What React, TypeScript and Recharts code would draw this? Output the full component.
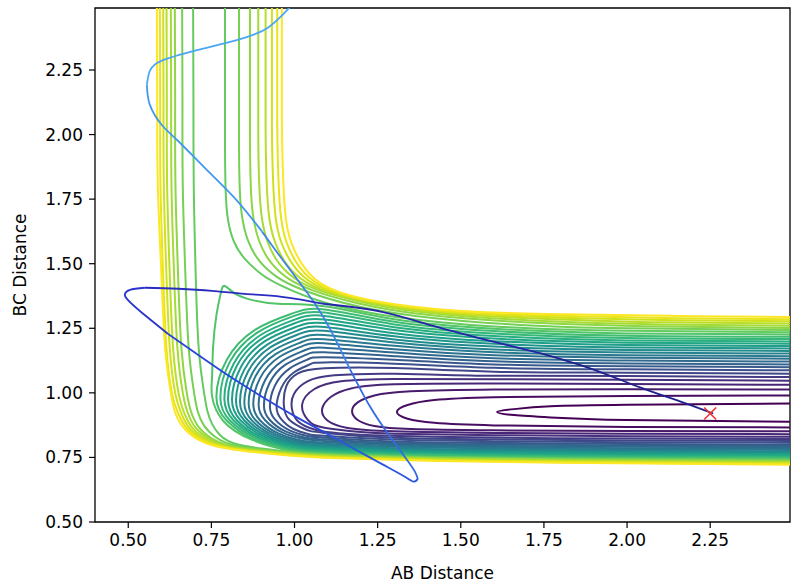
import React from 'react';
import { ComposedChart, Line, XAxis, YAxis, Label, ReferenceArea } from 'recharts';

type Pt = [number, number];

const xTicks = [0.5, 0.75, 1.0, 1.25, 1.5, 1.75, 2.0, 2.25];
const yTicks = [0.5, 0.75, 1.0, 1.25, 1.5, 1.75, 2.0, 2.25];

// viridis, one colour per contour level (low -> high)
const levelColors = [
  '#440154', '#470d60', '#481a6c', '#482576', '#472f7d', '#443b84', '#404588', '#3c508b',
  '#38598c', '#33628d', '#306a8e', '#2d718e', '#297a8e', '#26828e', '#228b8d', '#1f958b',
  '#1f9e89', '#21a685', '#28ae80', '#35b779', '#40bd72', '#52c569', '#63cb5f', '#75d054',
  '#8ed645', '#a5db36', '#bade28', '#d0e11c', '#e7e419', '#fde725',
];

// levels 1-22: loops of the BC valley, open to the right
const valleyLoops: Pt[][] = [
  [[2.5, 0.959], [2.0, 0.954], [1.77, 0.948], [1.66, 0.937], [1.609, 0.926], [1.66, 0.914], [1.77, 0.905], [2.0, 0.895], [2.5, 0.888]],
  [[2.5, 0.99], [2.0, 0.988], [1.6, 0.983], [1.42, 0.972], [1.34, 0.953], [1.308, 0.926], [1.34, 0.9], [1.42, 0.884], [1.6, 0.874], [2.0, 0.868], [2.5, 0.866]],
  [[2.5, 1.013], [2.0, 1.014], [1.6, 1.013], [1.35, 1.006], [1.24, 0.99], [1.19, 0.963], [1.173, 0.93], [1.19, 0.895], [1.24, 0.872], [1.35, 0.86], [1.6, 0.855], [2.0, 0.852], [2.5, 0.851]],
  [[2.5, 1.031], [2.0, 1.034], [1.6, 1.036], [1.3, 1.033], [1.17, 1.017], [1.11, 0.985], [1.083, 0.937], [1.1, 0.892], [1.16, 0.864], [1.3, 0.851], [1.6, 0.845], [2.0, 0.842], [2.5, 0.84]],
  [[2.5, 1.047], [2.0, 1.051], [1.6, 1.053], [1.3, 1.054], [1.14, 1.045], [1.06, 1.015], [1.023, 0.955], [1.04, 0.895], [1.09, 0.865], [1.2, 0.848], [1.3, 0.842], [1.6, 0.836], [2.0, 0.832], [2.5, 0.83]],
  [[2.5, 1.061], [2.0, 1.065], [1.6, 1.066], [1.3, 1.074], [1.12, 1.068], [1.04, 1.045], [0.998, 0.995], [0.992, 0.94], [1.01, 0.89], [1.06, 0.858], [1.2, 0.838], [1.6, 0.827], [2.0, 0.823], [2.5, 0.821]],
  [[2.5, 1.074], [2.0, 1.078], [1.6, 1.082], [1.3, 1.096], [1.09, 1.095], [1.01, 1.075], [0.975, 1.025], [0.968, 0.95], [0.985, 0.895], [1.03, 0.86], [1.09, 0.845], [1.3, 0.826], [1.6, 0.82], [2.0, 0.816], [2.5, 0.814]],
  [[2.5, 1.087], [2.0, 1.091], [1.6, 1.097], [1.3, 1.113], [1.09, 1.118], [1.046, 1.11], [0.997, 1.078], [0.96, 1.018], [0.946, 0.945], [0.96, 0.898], [0.997, 0.86], [1.046, 0.839], [1.09, 0.834], [1.3, 0.819], [1.6, 0.813], [2.0, 0.809], [2.5, 0.807]],
  [[2.5, 1.099], [2.0, 1.103], [1.6, 1.11], [1.3, 1.128], [1.09, 1.138], [1.039, 1.129], [0.985, 1.094], [0.941, 1.028], [0.926, 0.948], [0.941, 0.897], [0.985, 0.855], [1.039, 0.833], [1.09, 0.827], [1.3, 0.812], [1.6, 0.806], [2.0, 0.802], [2.5, 0.8]],
  [[2.5, 1.11], [2.0, 1.114], [1.6, 1.122], [1.3, 1.142], [1.09, 1.157], [1.034, 1.147], [0.973, 1.109], [0.925, 1.038], [0.908, 0.951], [0.925, 0.896], [0.973, 0.851], [1.034, 0.826], [1.09, 0.82], [1.3, 0.806], [1.6, 0.8], [2.0, 0.796], [2.5, 0.794]],
  [[2.5, 1.121], [2.0, 1.125], [1.6, 1.134], [1.3, 1.156], [1.09, 1.175], [1.029, 1.164], [0.963, 1.123], [0.911, 1.048], [0.892, 0.954], [0.911, 0.895], [0.963, 0.847], [1.029, 0.821], [1.09, 0.814], [1.3, 0.801], [1.6, 0.795], [2.0, 0.791], [2.5, 0.789]],
  [[2.5, 1.132], [2.0, 1.136], [1.6, 1.146], [1.3, 1.169], [1.09, 1.192], [1.024, 1.181], [0.952, 1.137], [0.896, 1.056], [0.876, 0.957], [0.896, 0.894], [0.952, 0.843], [1.024, 0.815], [1.09, 0.808], [1.3, 0.796], [1.6, 0.79], [2.0, 0.786], [2.5, 0.784]],
  [[2.5, 1.142], [2.0, 1.146], [1.6, 1.157], [1.3, 1.182], [1.09, 1.208], [1.02, 1.196], [0.943, 1.15], [0.883, 1.065], [0.862, 0.96], [0.883, 0.894], [0.943, 0.84], [1.02, 0.811], [1.09, 0.803], [1.3, 0.791], [1.6, 0.785], [2.0, 0.781], [2.5, 0.779]],
  [[2.5, 1.152], [2.0, 1.156], [1.6, 1.168], [1.3, 1.195], [1.09, 1.224], [1.016, 1.211], [0.935, 1.163], [0.872, 1.073], [0.849, 0.963], [0.872, 0.893], [0.935, 0.837], [1.016, 0.806], [1.09, 0.798], [1.3, 0.786], [1.6, 0.78], [2.0, 0.776], [2.5, 0.774]],
  [[2.5, 1.162], [2.0, 1.166], [1.6, 1.179], [1.3, 1.207], [1.09, 1.24], [1.012, 1.227], [0.927, 1.176], [0.86, 1.082], [0.836, 0.966], [0.86, 0.893], [0.927, 0.834], [1.012, 0.802], [1.09, 0.793], [1.3, 0.782], [1.6, 0.776], [2.0, 0.772], [2.5, 0.77]],
  [[2.5, 1.172], [2.0, 1.176], [1.6, 1.19], [1.3, 1.219], [1.09, 1.255], [1.008, 1.241], [0.919, 1.188], [0.849, 1.09], [0.824, 0.969], [0.849, 0.893], [0.919, 0.831], [1.008, 0.798], [1.09, 0.789], [1.3, 0.778], [1.6, 0.772], [2.0, 0.768], [2.5, 0.766]],
  [[2.5, 1.181], [2.0, 1.185], [1.6, 1.2], [1.3, 1.231], [1.09, 1.27], [1.004, 1.255], [0.911, 1.2], [0.838, 1.098], [0.812, 0.972], [0.838, 0.893], [0.911, 0.829], [1.004, 0.794], [1.09, 0.785], [1.3, 0.774], [1.6, 0.768], [2.0, 0.764], [2.5, 0.762]],
  [[2.5, 1.19], [2.0, 1.194], [1.6, 1.21], [1.3, 1.243], [1.09, 1.284], [1.0, 1.269], [0.904, 1.212], [0.827, 1.106], [0.8, 0.975], [0.827, 0.893], [0.904, 0.826], [1.0, 0.791], [1.09, 0.781], [1.3, 0.77], [1.6, 0.764], [2.0, 0.76], [2.5, 0.758]],
  [[2.5, 1.199], [2.0, 1.203], [1.6, 1.22], [1.3, 1.254], [1.09, 1.298], [0.997, 1.282], [0.897, 1.223], [0.817, 1.113], [0.789, 0.978], [0.817, 0.893], [0.897, 0.824], [0.997, 0.787], [1.09, 0.777], [1.3, 0.766], [1.6, 0.76], [2.0, 0.756], [2.5, 0.754]],
  [[2.5, 1.208], [2.0, 1.212], [1.6, 1.23], [1.3, 1.265], [1.09, 1.311], [0.993, 1.295], [0.889, 1.234], [0.806, 1.121], [0.777, 0.981], [0.806, 0.893], [0.889, 0.822], [0.993, 0.783], [1.09, 0.773], [1.3, 0.763], [1.6, 0.757], [2.0, 0.753], [2.5, 0.751]],
  [[2.5, 1.217], [2.0, 1.221], [1.6, 1.239], [1.3, 1.275], [1.09, 1.323], [0.99, 1.306], [0.881, 1.244], [0.796, 1.127], [0.765, 0.984], [0.796, 0.893], [0.881, 0.819], [0.99, 0.78], [1.09, 0.769], [1.3, 0.759], [1.6, 0.753], [2.0, 0.749], [2.5, 0.747]],
  [[2.5, 1.226], [2.0, 1.23], [1.6, 1.248], [1.3, 1.285], [1.09, 1.335], [0.95, 1.345], [0.87, 1.36], [0.82, 1.385], [0.79, 1.414], [0.778, 1.385], [0.765, 1.3], [0.755, 1.175], [0.752, 1.06], [0.752, 0.987], [0.784, 0.894], [0.873, 0.818], [0.986, 0.777], [1.09, 0.766], [1.3, 0.756], [1.6, 0.75], [2.0, 0.746], [2.5, 0.744]],
];

// levels 23-30: outer (repulsive) wall, top edge round the corner to the right edge
const outerWalls: Pt[][] = [
  [[0.695, 2.52], [0.696, 2.15], [0.697, 1.8], [0.703, 1.45], [0.712, 1.17], [0.728, 1.0], [0.738, 0.93], [0.752, 0.88], [0.775, 0.838], [0.83, 0.8], [0.95, 0.777], [1.09, 0.763], [1.4, 0.752], [1.8, 0.746], [2.5, 0.741]],
  [[0.662, 2.52], [0.663, 2.15], [0.664, 1.8], [0.672, 1.45], [0.682, 1.17], [0.698, 1.0], [0.709, 0.928], [0.728, 0.873], [0.762, 0.829], [0.827, 0.794], [0.95, 0.775], [1.09, 0.761], [1.4, 0.75], [1.8, 0.744], [2.5, 0.738]],
  [[0.64, 2.52], [0.641, 2.15], [0.642, 1.8], [0.65, 1.45], [0.66, 1.17], [0.676, 1.0], [0.689, 0.927], [0.711, 0.869], [0.753, 0.822], [0.825, 0.79], [0.95, 0.772], [1.09, 0.759], [1.4, 0.748], [1.8, 0.741], [2.5, 0.735]],
  [[0.628, 2.52], [0.629, 2.15], [0.63, 1.8], [0.638, 1.45], [0.648, 1.17], [0.664, 1.0], [0.678, 0.926], [0.702, 0.866], [0.748, 0.819], [0.824, 0.788], [0.95, 0.77], [1.09, 0.757], [1.4, 0.746], [1.8, 0.739], [2.5, 0.732]],
  [[0.615, 2.52], [0.616, 2.15], [0.617, 1.8], [0.625, 1.45], [0.635, 1.17], [0.651, 1.0], [0.667, 0.926], [0.693, 0.864], [0.743, 0.815], [0.823, 0.785], [0.95, 0.768], [1.09, 0.755], [1.4, 0.743], [1.8, 0.736], [2.5, 0.73]],
  [[0.605, 2.52], [0.606, 2.15], [0.607, 1.8], [0.615, 1.45], [0.625, 1.17], [0.641, 1.0], [0.658, 0.925], [0.685, 0.862], [0.739, 0.812], [0.823, 0.783], [0.95, 0.766], [1.09, 0.753], [1.4, 0.741], [1.8, 0.734], [2.5, 0.727]],
  [[0.595, 2.52], [0.596, 2.15], [0.597, 1.8], [0.605, 1.45], [0.615, 1.17], [0.631, 1.0], [0.649, 0.924], [0.678, 0.86], [0.735, 0.81], [0.822, 0.782], [0.95, 0.763], [1.09, 0.751], [1.4, 0.739], [1.8, 0.731], [2.5, 0.724]],
  [[0.586, 2.52], [0.587, 2.15], [0.589, 1.8], [0.6, 1.45], [0.611, 1.17], [0.628, 1.0], [0.641, 0.924], [0.671, 0.858], [0.731, 0.807], [0.821, 0.78], [0.95, 0.761], [1.09, 0.749], [1.4, 0.737], [1.8, 0.729], [2.5, 0.722]],
];

// levels 23-30: inner wall of the AB channel bending into the BC valley
const innerWalls: Pt[][] = [
  [[0.791, 2.52], [0.791, 2.2], [0.791, 1.95], [0.793, 1.78], [0.8, 1.67], [0.818, 1.585], [0.85, 1.52], [0.9, 1.46], [0.96, 1.415], [1.09, 1.35], [1.3, 1.295], [1.6, 1.257], [2.0, 1.24], [2.5, 1.235]],
  [[0.833, 2.52], [0.833, 2.2], [0.833, 1.97], [0.835, 1.8], [0.842, 1.685], [0.86, 1.59], [0.895, 1.51], [0.947, 1.449], [1.015, 1.404], [1.146, 1.349], [1.363, 1.298], [1.678, 1.263], [2.0, 1.25], [2.5, 1.243]],
  [[0.866, 2.52], [0.866, 2.2], [0.866, 1.99], [0.868, 1.82], [0.875, 1.69], [0.894, 1.587], [0.93, 1.503], [0.984, 1.44], [1.057, 1.396], [1.19, 1.347], [1.413, 1.3], [1.74, 1.27], [2.05, 1.258], [2.5, 1.251]],
  [[0.891, 2.52], [0.891, 2.22], [0.891, 2.0], [0.893, 1.84], [0.9, 1.695], [0.919, 1.585], [0.956, 1.497], [1.012, 1.433], [1.09, 1.39], [1.223, 1.346], [1.451, 1.303], [1.787, 1.276], [2.1, 1.265], [2.5, 1.26]],
  [[0.913, 2.52], [0.913, 2.22], [0.913, 2.02], [0.915, 1.86], [0.922, 1.7], [0.941, 1.585], [0.98, 1.492], [1.037, 1.427], [1.118, 1.384], [1.252, 1.344], [1.484, 1.305], [1.827, 1.283], [2.1, 1.273], [2.5, 1.268]],
  [[0.932, 2.52], [0.932, 2.24], [0.932, 2.04], [0.934, 1.88], [0.941, 1.705], [0.96, 1.583], [1.0, 1.488], [1.058, 1.422], [1.143, 1.38], [1.277, 1.343], [1.513, 1.308], [1.863, 1.289], [2.15, 1.281], [2.5, 1.277]],
  [[0.948, 2.52], [0.948, 2.24], [0.948, 2.05], [0.95, 1.895], [0.957, 1.708], [0.976, 1.583], [1.017, 1.484], [1.076, 1.418], [1.164, 1.376], [1.298, 1.341], [1.537, 1.31], [1.893, 1.296], [2.15, 1.289], [2.5, 1.285]],
  [[0.962, 2.52], [0.962, 2.25], [0.962, 2.06], [0.964, 1.905], [0.971, 1.71], [0.99, 1.583], [1.032, 1.481], [1.092, 1.414], [1.182, 1.372], [1.317, 1.34], [1.558, 1.313], [1.919, 1.302], [2.2, 1.297], [2.5, 1.294]],
];

// the trajectory, in time order
const trajectory: Pt[] = [
  [1.005, 2.52], [0.92, 2.414], [0.821, 2.364], [0.701, 2.325], [0.601, 2.286], [0.565, 2.247], [0.556, 2.193],
  [0.565, 2.115], [0.601, 2.037], [0.65, 1.975], [0.731, 1.87], [0.821, 1.753], [0.902, 1.625], [0.962, 1.519],
  [1.023, 1.414], [1.062, 1.344], [1.107, 1.247], [1.167, 1.091], [1.227, 0.947], [1.287, 0.831], [1.338, 0.741],
  [1.362, 0.695], [1.371, 0.667], [1.359, 0.656], [1.332, 0.675], [1.266, 0.722], [1.167, 0.792], [1.092, 0.846],
  [1.002, 0.909], [0.896, 0.99], [0.8, 1.068], [0.716, 1.142], [0.62, 1.228], [0.535, 1.317], [0.496, 1.364],
  [0.49, 1.383], [0.505, 1.399], [0.55, 1.407], [0.65, 1.403], [0.752, 1.395], [0.851, 1.383], [0.962, 1.372],
  [1.092, 1.344], [1.266, 1.313], [1.417, 1.259], [1.567, 1.208], [1.738, 1.154], [1.889, 1.095], [2.039, 1.021],
  [2.159, 0.967], [2.259, 0.92],
];
const trajectoryBreaks = [0, 6, 12, 17, 22, 27, 32, 37, 42, 46, 50];
const trajectoryColors = ['#4ca6f2', '#4597ee', '#3d82ea', '#336be6', '#2c55e0', '#2a45da', '#2b36d0', '#2a2cc0', '#2525a8', '#20208e'];

const startPoint: Pt = [2.25, 0.92];

const rows = (pts: Pt[]) => pts.map(([x, y]) => ({ x, y }));
const fmt = (v: number) => v.toFixed(2);
const font = { fill: '#000', fontSize: 17, fontFamily: 'DejaVu Sans' };

const XMark = (props: any) => {
  const { cx, cy } = props;
  if (cx == null || cy == null) return <g />;
  return (
    <g>
      <line x1={cx - 6} y1={cy - 6} x2={cx + 6} y2={cy + 6} stroke="#f03030" strokeWidth={1.6} />
      <line x1={cx - 6} y1={cy + 6} x2={cx + 6} y2={cy - 6} stroke="#f03030" strokeWidth={1.6} />
    </g>
  );
};

export default function App() {
  const contours = [
    ...valleyLoops.map((pts, i) => ({ pts, color: levelColors[i] })),
    ...outerWalls.map((pts, i) => ({ pts, color: levelColors[22 + i] })),
    ...innerWalls.map((pts, i) => ({ pts, color: levelColors[22 + i] })),
  ];
  const segments = trajectoryColors.map((color, i) => ({
    color,
    pts: trajectory.slice(trajectoryBreaks[i], trajectoryBreaks[i + 1] + 1),
  }));

  return (
    <div style={{ position: 'absolute', left: 0, top: 0 }}>
      <ComposedChart width={800} height={587} margin={{ top: 8, right: 10, bottom: 0, left: 0 }}>
        <XAxis
          type="number"
          dataKey="x"
          domain={[0.4, 2.49]}
          allowDataOverflow
          ticks={xTicks}
          tickFormatter={fmt}
          height={65}
          tickSize={6}
          tickMargin={6}
          axisLine={false}
          tickLine={{ stroke: '#000', strokeWidth: 1.2 }}
          tick={font}
        >
          <Label
            content={() => (
              <text x={442.5} y={579} textAnchor="middle" {...font}>
                AB Distance
              </text>
            )}
          />
        </XAxis>
        <YAxis
          type="number"
          domain={[0.5, 2.49]}
          allowDataOverflow
          ticks={yTicks}
          tickFormatter={fmt}
          width={95}
          tickSize={6}
          tickMargin={6}
          axisLine={false}
          tickLine={{ stroke: '#000', strokeWidth: 1.2 }}
          tick={font}
        >
          <Label
            content={() => (
              <text x={26} y={265} textAnchor="middle" transform="rotate(-90 26 265)" {...font}>
                BC Distance
              </text>
            )}
          />
        </YAxis>
        {contours.map((c, i) => (
          <Line
            key={'c' + i}
            data={rows(c.pts)}
            dataKey="y"
            type="natural"
            stroke={c.color}
            strokeWidth={2}
            dot={false}
            activeDot={false}
            isAnimationActive={false}
          />
        ))}
        {segments.map((s, i) => (
          <Line
            key={'t' + i}
            data={rows(s.pts)}
            dataKey="y"
            type="natural"
            stroke={s.color}
            strokeWidth={1.8}
            dot={false}
            activeDot={false}
            isAnimationActive={false}
          />
        ))}
        <Line
          data={rows([startPoint])}
          dataKey="y"
          stroke="none"
          dot={<XMark />}
          activeDot={false}
          isAnimationActive={false}
        />
        <ReferenceArea x1={0.4} x2={2.49} y1={0.5} y2={2.49} fill="none" stroke="#000" strokeWidth={1.3} />
      </ComposedChart>
    </div>
  );
}
